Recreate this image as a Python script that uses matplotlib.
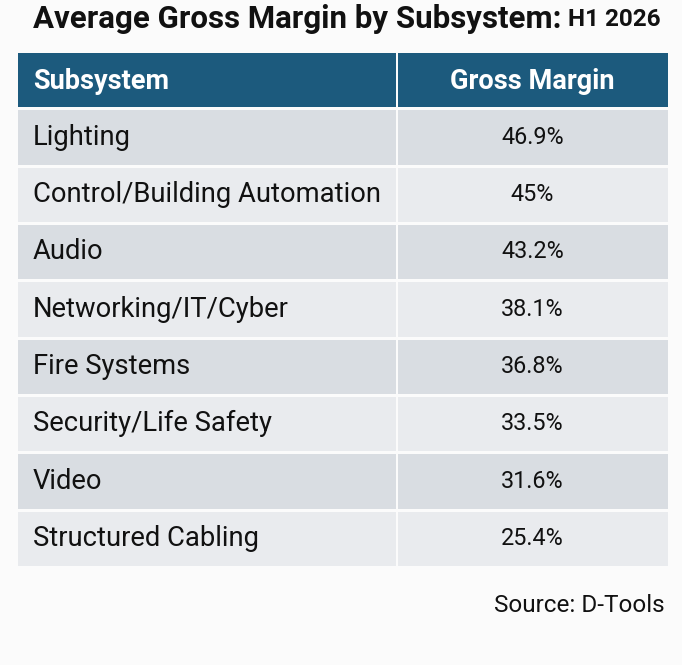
import matplotlib
matplotlib.use("Agg")
import matplotlib.pyplot as plt
from matplotlib.patches import Rectangle

# data start here
title = "Average Gross Margin by Subsystem:"
period = "H1 2026"
col_headers = ["Subsystem", "Gross Margin"]
subsystems = ["Lighting", "Control/Building Automation", "Audio",
              "Networking/IT/Cyber", "Fire Systems", "Security/Life Safety",
              "Video", "Structured Cabling"]
margins = ["46.9%", "45%", "43.2%", "38.1%", "36.8%", "33.5%", "31.6%", "25.4%"]
source = "Source: D-Tools"
# data end here

FONT = ["Roboto", "DejaVu Sans"]
header_color = "#1c5a7d"
row_colors = ["#d9dde2", "#e9ebee"]

fig = plt.figure(figsize=(6.82, 6.65), dpi=100)
fig.patch.set_facecolor("#fbfbfb")

# table axes: pixel box x 18..668, y 53..569
W, H = 682.0, 665.0
left, right, top, bottom = 18, 668, 53, 569
ax = fig.add_axes([left / W, 1 - bottom / H, (right - left) / W, (bottom - top) / H])
n = len(subsystems) + 1
ax.set_xlim(0, 1)
ax.set_ylim(n, 0)
ax.axis("off")

split = (397 - left) / float(right - left)
gap = 0.05

# header
ax.add_patch(Rectangle((0, 0), split - 0.002, 1 - gap, color=header_color, lw=0))
ax.add_patch(Rectangle((split + 0.002, 0), 1 - split - 0.002, 1 - gap,
                       color=header_color, lw=0))
ax.text(0.023, 0.5, col_headers[0], color="white", fontsize=19.5,
        fontweight="bold", family=FONT, ha="left", va="center")
ax.text(split + (1 - split) / 2, 0.5, col_headers[1], color="white",
        fontsize=19.5, fontweight="bold", family=FONT, ha="center", va="center")

# body rows
for i, (name, val) in enumerate(zip(subsystems, margins)):
    y = i + 1
    c = row_colors[i % 2]
    ax.add_patch(Rectangle((0, y), split - 0.002, 1 - gap, color=c, lw=0))
    ax.add_patch(Rectangle((split + 0.002, y), 1 - split - 0.002, 1 - gap,
                           color=c, lw=0))
    ax.text(0.023, y + 0.47, name, color="#111111", fontsize=19.7,
            family=FONT, ha="left", va="center")
    ax.text(split + (1 - split) / 2, y + 0.47, val, color="#111111",
            fontsize=16.8, family=FONT, ha="center", va="center")

# title and source
t = fig.text(33 / W, 1 - 19 / H, title, fontsize=22.5, fontweight="bold",
             family=FONT, ha="left", va="center", color="#111111")
fig.canvas.draw()
bb = t.get_window_extent()
fig.text((bb.x1 + 7) / W, 1 - 20 / H, period, fontsize=17.5, fontweight="bold",
         family=FONT, ha="left", va="center", color="#111111")
fig.text(665 / W, 1 - 606 / H, source, fontsize=17.5, family=FONT,
         ha="right", va="center", color="#111111")

fig.savefig("out.png", dpi=100, facecolor=fig.get_facecolor())
